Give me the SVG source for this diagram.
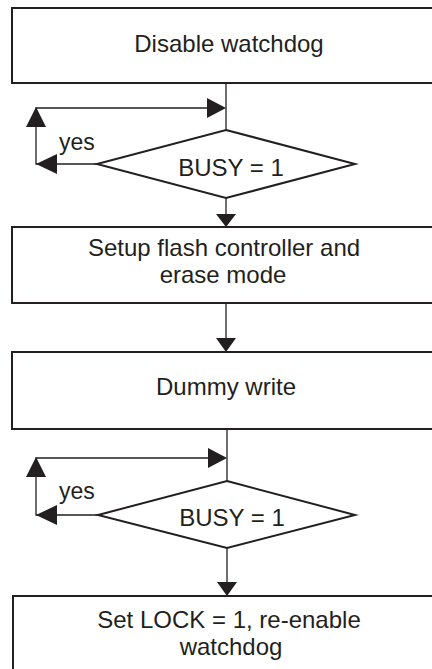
<svg xmlns="http://www.w3.org/2000/svg" width="432" height="669" viewBox="0 0 432 669">
<style>
.box{fill:#fff;stroke:#231f20;stroke-width:2}
.dia{fill:#fff;stroke:#231f20;stroke-width:2;stroke-linejoin:miter}
.ln{fill:none;stroke:#231f20;stroke-width:1.3}
.ah{fill:#231f20;stroke:none}
text{font-family:"Liberation Sans",Arial,sans-serif;font-size:24px;fill:#231f20;text-anchor:middle}
.lbl{text-anchor:start;font-size:23px}
</style>
<rect width="432" height="669" fill="#fff"/>
<g id="connectors">
<line class="ln" x1="226" y1="83" x2="226" y2="130"/>
<polyline class="ln" points="97,164 36,164 36,108 208,108"/>
<polygon class="ah" points="226,108 207,98 207,118"/>
<polygon class="ah" points="36,107 26,127 46,127"/>
<polygon class="ah" points="36,164 57,154 57,174"/>
<line class="ln" x1="226" y1="198" x2="226" y2="215"/>
<polygon class="ah" points="226,227 216,214 236,214"/>
<line class="ln" x1="226" y1="303" x2="226" y2="340"/>
<polygon class="ah" points="226,352 216,338 236,338"/>
<line class="ln" x1="227" y1="429" x2="227" y2="481"/>
<polyline class="ln" points="98,515 36,515 36,458 208,458"/>
<polygon class="ah" points="227,458 208,448 208,468"/>
<polygon class="ah" points="36,457 26,477 46,477"/>
<polygon class="ah" points="36,515 57,505 57,525"/>
<line class="ln" x1="227" y1="548" x2="227" y2="583"/>
<polygon class="ah" points="227,596 217,582 237,582"/>
</g>
<g id="n1">
<rect class="box" x="12" y="8" width="430" height="75"/>
<text x="229" y="52">Disable watchdog</text>
</g>
<g id="d1">
<polygon class="dia" points="226,130 355,164 226,198 97,164"/>
<text x="231" y="176">BUSY = 1</text>
<text class="lbl" x="59" y="150">yes</text>
</g>
<g id="n2">
<rect class="box" x="12" y="227" width="430" height="76"/>
<text x="224" y="256">Setup flash controller and</text>
<text x="223" y="283">erase mode</text>
</g>
<g id="n3">
<rect class="box" x="12" y="352" width="430" height="77"/>
<text x="226" y="395">Dummy write</text>
</g>
<g id="d2">
<polygon class="dia" points="227,481 355,515 227,548 98,515"/>
<text x="232" y="526">BUSY = 1</text>
<text class="lbl" x="59" y="499">yes</text>
</g>
<g id="n4">
<rect class="box" x="13" y="596" width="430" height="100"/>
<text x="229" y="628">Set LOCK = 1, re-enable</text>
<text x="231" y="655">watchdog</text>
</g>
</svg>
